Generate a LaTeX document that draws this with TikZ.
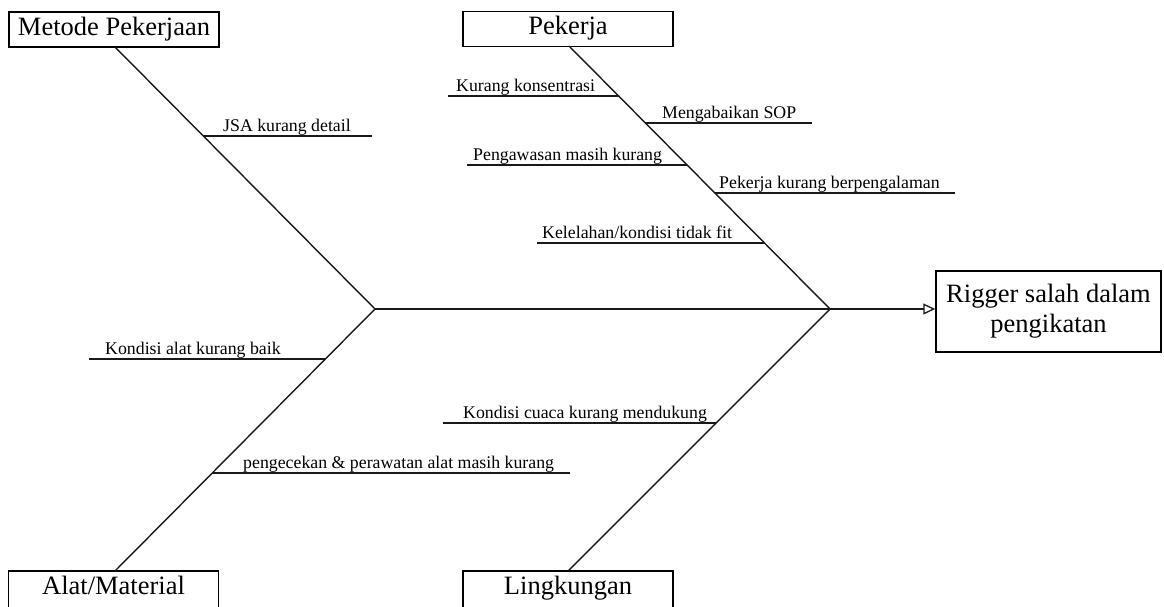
\documentclass[tikz,border=0pt]{standalone}
\usepackage{fontspec}
\setmainfont{Liberation Serif}
\usetikzlibrary{arrows.meta,calc}
\begin{document}
\begin{tikzpicture}[x=1pt,y=-1pt,
  catbox/.style={draw=black,line width=1.5pt,inner sep=0pt,minimum width=210pt,
    minimum height=35pt,text height=18.5pt,text depth=7.5pt,
    font=\fontsize{26.5}{30}\selectfont},
  catboxlow/.style={catbox,minimum height=39pt,text depth=11.5pt},
  effbox/.style={draw=black,line width=1.5pt,inner sep=0pt,minimum width=225pt,
    minimum height=81pt,align=center,font=\fontsize{26.5}{30}\selectfont},
  bone/.style={line width=1.4pt,draw=black!90},
  twig/.style={line width=1.4pt,draw=black!90},
  cause/.style={anchor=base west,inner sep=0pt,font=\fontsize{17.8}{20}\selectfont}]
\useasboundingbox (0,0) rectangle (1164,606);

% category and effect boxes
\node[catbox] (metode) at (114,29.5) {Metode Pekerjaan};
\node[catbox] (pekerja) at (568,29) {Pekerja};
\node[catboxlow] (alat) at (113.5,590.5) {Alat/Material};
\node[catboxlow] (lingk) at (568,590.5) {Lingkungan};
\node[effbox] (rigger) at (1048.5,311.5) {Rigger salah dalam\\pengikatan};

% junctions
\coordinate (J1) at (375,309);
\coordinate (J2) at (830,309);
\coordinate (mTop) at (115,47);
\coordinate (pTop) at (569,46);
\coordinate (aBot) at (115,571);
\coordinate (lBot) at (568,571);

% spine and bones
\draw[bone,-{Triangle[open,length=12pt,width=11pt,line width=1.3pt]}] (J1) -- (J1 -| rigger.west);
\draw[bone] (mTop) -- (J1);
\draw[bone] (pTop) -- (J2);
\draw[bone] (aBot) -- (J1);
\draw[bone] (lBot) -- (J2);

% Metode Pekerjaan causes
\coordinate (m1a) at (203.3,136); \coordinate (m1b) at (372,136);
\draw[twig] (m1a) -- (m1b);
\node[cause] (c-jsa) at (223,131.5) {JSA kurang detail};

% Pekerja causes
\coordinate (p1a) at (448,96);  \coordinate (p1b) at (618.6,96);
\coordinate (p2a) at (645.4,123); \coordinate (p2b) at (812,123);
\coordinate (p3a) at (467,165); \coordinate (p3b) at (687.1,165);
\coordinate (p4a) at (714.9,193); \coordinate (p4b) at (955,193);
\coordinate (p5a) at (537,243); \coordinate (p5b) at (764.5,243);
\draw[twig] (p1a) -- (p1b);
\draw[twig] (p2a) -- (p2b);
\draw[twig] (p3a) -- (p3b);
\draw[twig] (p4a) -- (p4b);
\draw[twig] (p5a) -- (p5b);
\node[cause] (c-kons) at (456,91.5) {Kurang konsentrasi};
\node[cause] (c-sop) at (662,118.5) {Mengabaikan SOP};
\node[cause] (c-peng) at (473,160.5) {Pengawasan masih kurang};
\node[cause] (c-pglm) at (719,188.5) {Pekerja kurang berpengalaman};
\node[cause] (c-lelah) at (542,238.5) {Kelelahan/kondisi tidak fit};

% Alat/Material causes
\coordinate (a1a) at (89,359);  \coordinate (a1b) at (325.4,359);
\coordinate (a2a) at (212.3,473); \coordinate (a2b) at (570,473);
\draw[twig] (a1a) -- (a1b);
\draw[twig] (a2a) -- (a2b);
\node[cause] (c-alat) at (105,354.5) {Kondisi alat kurang baik};
\node[cause] (c-cek) at (243,468.5) {pengecekan \& perawatan alat masih kurang};

% Lingkungan causes
\coordinate (l1a) at (443,423); \coordinate (l1b) at (716,423);
\draw[twig] (l1a) -- (l1b);
\node[cause] (c-cuaca) at (463,418.5) {Kondisi cuaca kurang mendukung};
\end{tikzpicture}
\end{document}
